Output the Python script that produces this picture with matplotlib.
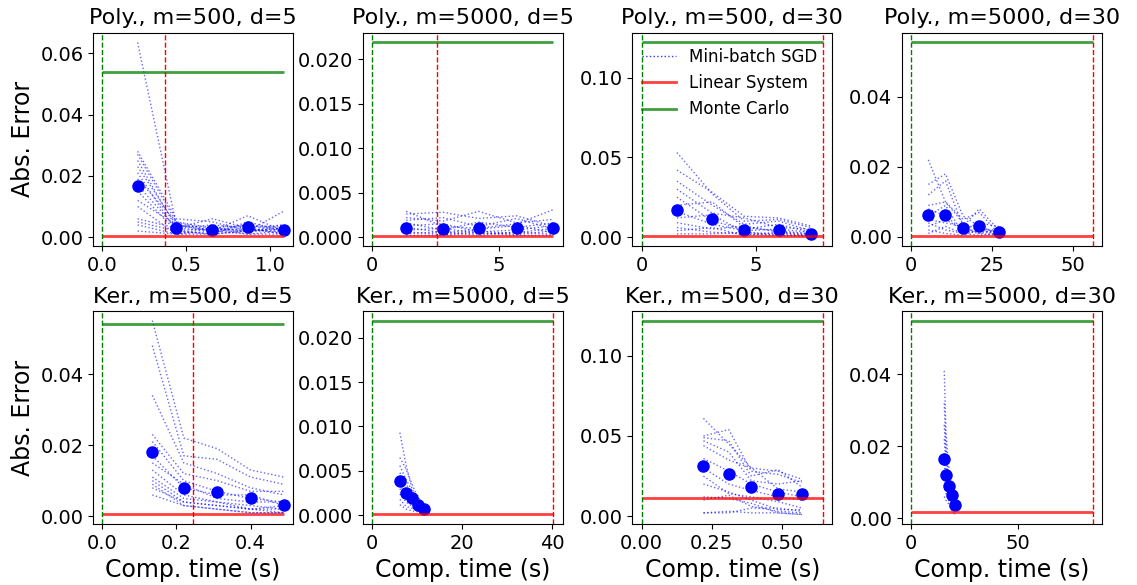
import matplotlib

matplotlib.use('Agg')
import matplotlib.pyplot as plt
import numpy as np

titles = [
    'Poly., m=500, d=5', 'Poly., m=5000, d=5', 'Poly., m=500, d=30', 'Poly., m=5000, d=30',
    'Ker., m=500, d=5', 'Ker., m=5000, d=5', 'Ker., m=500, d=30', 'Ker., m=5000, d=30',
]

# SGD checkpoint times (s) for each setting
sgd_times = [
    [0.21, 0.44, 0.655, 0.865, 1.08],
    [1.35, 2.8, 4.2, 5.7, 7.15],
    [1.55, 3.1, 4.5, 6.0, 7.4],
    [5.3, 10.6, 16.0, 21.0, 27.0],
    [0.135, 0.22, 0.31, 0.40, 0.49],
    [6.2, 7.6, 8.9, 10.2, 11.5],
    [0.22, 0.31, 0.39, 0.485, 0.57],
    [15.5, 16.3, 17.5, 19.0, 20.5],
]

# per-run SGD errors
sgd_runs = [
    [[0.0635, 0.004, 0.003, 0.002, 0.003],
     [0.028, 0.006, 0.005, 0.002, 0.0025],
     [0.027, 0.005, 0.003, 0.004, 0.002],
     [0.025, 0.003, 0.006, 0.003, 0.004],
     [0.023, 0.004, 0.002, 0.007, 0.002],
     [0.021, 0.002, 0.003, 0.002, 0.0085],
     [0.019, 0.005, 0.002, 0.004, 0.003],
     [0.017, 0.003, 0.004, 0.003, 0.001],
     [0.015, 0.002, 0.001, 0.005, 0.002],
     [0.012, 0.004, 0.002, 0.002, 0.004],
     [0.010, 0.001, 0.003, 0.001, 0.002],
     [0.006, 0.003, 0.002, 0.003, 0.001],
     [0.005, 0.002, 0.001, 0.002, 0.003],
     [0.004, 0.001, 0.002, 0.001, 0.001],
     [0.002, 0.001, 0.001, 0.002, 0.002]],
    [[0.0029, 0.0012, 0.0010, 0.0015, 0.0031],
     [0.0026, 0.0028, 0.0021, 0.0024, 0.0012],
     [0.0022, 0.0018, 0.0029, 0.0016, 0.0020],
     [0.0019, 0.0022, 0.0012, 0.0021, 0.0009],
     [0.0016, 0.0008, 0.0017, 0.0011, 0.0016],
     [0.0013, 0.0015, 0.0006, 0.0008, 0.0013],
     [0.0011, 0.0005, 0.0009, 0.0013, 0.0005],
     [0.0008, 0.0010, 0.0004, 0.0005, 0.0010],
     [0.0006, 0.0003, 0.0007, 0.0003, 0.0007],
     [0.0004, 0.0006, 0.0002, 0.0006, 0.0003],
     [0.0002, 0.0002, 0.0005, 0.0002, 0.0002]],
    [[0.053, 0.027, 0.010, 0.011, 0.006],
     [0.042, 0.028, 0.013, 0.012, 0.007],
     [0.035, 0.020, 0.008, 0.010, 0.004],
     [0.030, 0.015, 0.012, 0.006, 0.005],
     [0.025, 0.010, 0.005, 0.008, 0.003],
     [0.020, 0.022, 0.006, 0.004, 0.002],
     [0.016, 0.008, 0.004, 0.005, 0.003],
     [0.012, 0.014, 0.003, 0.002, 0.001],
     [0.009, 0.005, 0.007, 0.003, 0.002],
     [0.006, 0.003, 0.002, 0.001, 0.001],
     [0.004, 0.006, 0.001, 0.003, 0.001],
     [0.002, 0.002, 0.003, 0.001, 0.0005]],
    [[0.022, 0.010, 0.004, 0.002, 0.002],
     [0.015, 0.018, 0.006, 0.003, 0.001],
     [0.012, 0.016, 0.003, 0.008, 0.002],
     [0.009, 0.010, 0.005, 0.007, 0.001],
     [0.008, 0.006, 0.002, 0.004, 0.003],
     [0.006, 0.009, 0.001, 0.002, 0.001],
     [0.005, 0.004, 0.003, 0.001, 0.0005],
     [0.004, 0.002, 0.001, 0.003, 0.001],
     [0.003, 0.005, 0.002, 0.001, 0.002],
     [0.002, 0.001, 0.0005, 0.002, 0.0005],
     [0.001, 0.003, 0.001, 0.0005, 0.001]],
    [[0.055, 0.022, 0.019, 0.013, 0.011],
     [0.048, 0.017, 0.016, 0.011, 0.009],
     [0.034, 0.015, 0.012, 0.008, 0.006],
     [0.023, 0.012, 0.010, 0.007, 0.007],
     [0.021, 0.010, 0.007, 0.005, 0.004],
     [0.017, 0.008, 0.006, 0.006, 0.003],
     [0.015, 0.009, 0.005, 0.004, 0.004],
     [0.013, 0.006, 0.004, 0.003, 0.002],
     [0.011, 0.005, 0.004, 0.002, 0.003],
     [0.010, 0.004, 0.003, 0.002, 0.002],
     [0.009, 0.003, 0.002, 0.001, 0.001],
     [0.008, 0.004, 0.003, 0.002, 0.001],
     [0.006, 0.003, 0.002, 0.001, 0.001]],
    [[0.0093, 0.0056, 0.0030, 0.0018, 0.0008],
     [0.0065, 0.0052, 0.0035, 0.0020, 0.0010],
     [0.0056, 0.0040, 0.0028, 0.0015, 0.0007],
     [0.0048, 0.0035, 0.0025, 0.0022, 0.0009],
     [0.0042, 0.0030, 0.0018, 0.0012, 0.0005],
     [0.0035, 0.0022, 0.0021, 0.0010, 0.0006],
     [0.0030, 0.0018, 0.0014, 0.0008, 0.0004],
     [0.0024, 0.0015, 0.0010, 0.0011, 0.0005],
     [0.0018, 0.0010, 0.0008, 0.0006, 0.0003],
     [0.0012, 0.0007, 0.0005, 0.0004, 0.0002]],
    [[0.061, 0.045, 0.030, 0.028, 0.023],
     [0.050, 0.054, 0.028, 0.026, 0.021],
     [0.049, 0.047, 0.025, 0.029, 0.018],
     [0.047, 0.040, 0.022, 0.020, 0.022],
     [0.044, 0.035, 0.030, 0.017, 0.015],
     [0.036, 0.028, 0.020, 0.015, 0.012],
     [0.030, 0.020, 0.016, 0.012, 0.010],
     [0.025, 0.014, 0.012, 0.009, 0.005],
     [0.020, 0.015, 0.010, 0.004, 0.004],
     [0.012, 0.011, 0.008, 0.002, 0.001],
     [0.010, 0.013, 0.006, 0.003, 0.002],
     [0.002, 0.002, 0.005, 0.005, 0.003],
     [0.002, 0.003, 0.002, 0.002, 0.001]],
    [[0.041, 0.024, 0.015, 0.009, 0.004],
     [0.032, 0.020, 0.012, 0.008, 0.003],
     [0.026, 0.018, 0.010, 0.007, 0.004],
     [0.022, 0.015, 0.011, 0.006, 0.003],
     [0.018, 0.013, 0.009, 0.005, 0.002],
     [0.015, 0.010, 0.008, 0.007, 0.004],
     [0.012, 0.008, 0.006, 0.004, 0.001],
     [0.009, 0.007, 0.005, 0.003, 0.002],
     [0.006, 0.005, 0.004, 0.002, 0.001]],
]

# mean SGD error at each checkpoint
sgd_means = [
    [0.0167, 0.0029, 0.0025, 0.0034, 0.0024],
    [0.0010, 0.0009, 0.0010, 0.0010, 0.0010],
    [0.0170, 0.0115, 0.0045, 0.0045, 0.0020],
    [0.0063, 0.0063, 0.0025, 0.0030, 0.0013],
    [0.0180, 0.0080, 0.0067, 0.0050, 0.0033],
    [0.0039, 0.0025, 0.0019, 0.0012, 0.0007],
    [0.0310, 0.0260, 0.0180, 0.0140, 0.0140],
    [0.0165, 0.0120, 0.0090, 0.0063, 0.0037],
]

ls_err = [0.0003, 0.0001, 0.0005, 0.0002, 0.0005, 0.0001, 0.0115, 0.0018]
ls_time = [0.375, 2.55, 7.95, 56.0, 0.245, 40.3, 0.645, 85.0]
mc_err = [0.054, 0.0219, 0.122, 0.0555, 0.054, 0.0219, 0.122, 0.055]
mc_time = [0.0] * 8

fig, axes = plt.subplots(2, 4, figsize=(11.37, 5.85), dpi=100)
fig.subplots_adjust(left=0.082, right=0.969, top=0.944, bottom=0.104,
                     wspace=0.35, hspace=0.305)

for i, ax in enumerate(axes.flat):
    t = np.array(sgd_times[i])
    for run in sgd_runs[i]:
        ax.plot(t, run, ':', color='b', lw=1, alpha=0.6)
    ax.plot(t, sgd_means[i], 'o', color='b', ms=8)

    x_end = max(ls_time[i], t[-1])
    ax.hlines(ls_err[i], 0, x_end, color='r', lw=2, alpha=0.75)
    ax.hlines(mc_err[i], 0, x_end, color='g', lw=2, alpha=0.75)
    ax.axvline(ls_time[i], color='r', ls='--', lw=1)
    ax.axvline(mc_time[i], color='g', ls='--', lw=1)

    ax.set_title(titles[i], fontsize=16)
    ax.tick_params(labelsize=14)
    if i % 4 == 0:
        ax.set_ylabel('Abs. Error', fontsize=17)
    if i >= 4:
        ax.set_xlabel('Comp. time (s)', fontsize=17)

# legend on the third panel
ax = axes[0, 2]
h_sgd, = ax.plot([], [], ':', color='b', lw=1, alpha=0.8)
h_ls, = ax.plot([], [], color='r', lw=2, alpha=0.75)
h_mc, = ax.plot([], [], color='g', lw=2, alpha=0.75)
ax.legend([h_sgd, h_ls, h_mc], ['Mini-batch SGD', 'Linear System', 'Monte Carlo'],
          loc='upper right', fontsize=12, frameon=False)

fig.savefig('out.png', dpi=100, facecolor='w')
